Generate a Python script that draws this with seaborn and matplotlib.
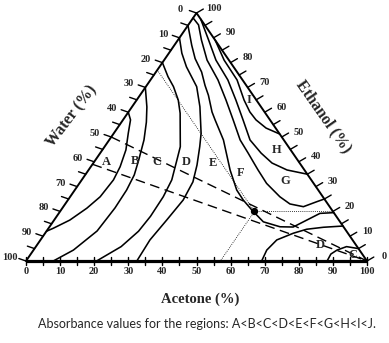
import numpy as np
import pandas as pd
import seaborn as sns
import matplotlib
matplotlib.use('Agg')
import matplotlib.pyplot as plt

ab_acetone = [0, 2.2, 4.2, 6.9, 8.6, 9.3, 8.8, 7.2, 4.6, 1.4, 0]
ab_ethanol = [60, 56.9, 51.6, 44.8, 38, 32.7, 25.9, 21.3, 16.5, 13.2, 12]

bc_acetone = [0, 4.4, 7.3, 10.2, 12.7, 14.4, 15.2, 15.4, 14.8, 11.7, 8]
bc_ethanol = [70, 62.1, 56, 48.8, 40.7, 34.7, 28.6, 21.4, 12.1, 4.4, 0]

cd_acetone = [0, 4.5, 8.1, 12.2, 15.4, 22.2, 23.9, 26.4, 27.3, 27.5, 27.0, 25.0, 20.7]
cd_ethanol = [80, 74.3, 70.3, 64.9, 59.6, 46.1, 40.7, 32.7, 25.9, 18, 12, 5.8, 0]

de_acetone = [0, 3.8, 7.9, 14.9, 19.9, 25.6, 27.9, 30.8, 33.0, 33.8, 33.0, 32.1, 32.5]
de_ethanol = [90, 83.8, 78.3, 70.3, 62.2, 51.5, 46.1, 38.7, 31.9, 24.6, 16.5, 8.5, 0]

ef_acetone = [0, 5.1, 8.8, 13.4, 17.1, 20.1, 24.5, 27.0, 33.5, 41.5, 47.5, 51.4,
              55.9, 61.7, 67.6, 71.5, 74.1, 76.6, 80.5]
ef_ethanol = [95, 87.0, 81.6, 76.2, 70.8, 66.8, 60.1, 56.9, 48.8, 36.7, 28.6, 24.6,
              20.6, 15.8, 13.8, 13.7, 16.5, 19.2, 19.5]

fg_acetone = [0, 3.0, 6.9, 12.6, 19.8, 26.2, 32.3, 38.4, 43.4, 47.1, 49.7, 54.9,
              61.5, 65.9, 70.4, 73.3, 75]
fg_ethanol = [98, 95.2, 89.1, 81.0, 73.0, 64.9, 56.9, 48.8, 43.5, 39.5, 36.7, 31.3,
              25.9, 23.0, 21.9, 23.9, 25]

gh_acetone = [2.5, 9.0, 15.2, 22.7, 29.1, 35.2, 41.3, 47.2, 52.4, 58.2, 65]
gh_ethanol = [97.5, 89.1, 81.0, 73.0, 64.9, 56.9, 48.8, 43.5, 39.5, 36.7, 35]

hi_acetone = [11, 17.6, 25.4, 31.5, 35.6, 39.0, 43.6, 48.8]
hi_ethanol = [89, 81.0, 73.0, 64.9, 60.1, 56.9, 53.6, 51.2]

# the two small pockets near the acetone corner
d_arc_acetone = [69.1, 68.4, 69.3, 72.8, 75.9, 80.4, 85.9]
d_arc_ethanol = [0, 4.4, 8.5, 11.2, 12.8, 13.6, 14.1]
c_arc_acetone = [88.3, 88.0, 89.0, 91.1, 95]
c_arc_ethanol = [0, 2.8, 4.4, 5.8, 5]

# dashed lines start on the water axis and run to pure acetone
dash_start_water = [50, 61]

# marked composition (acetone, ethanol, water)
point_acetone = 57
point_ethanol = 20
point_water = 23

region_labels = ['A', 'B', 'C', 'D', 'E', 'F', 'G', 'H', 'I', 'D', 'C']
label_acetone = [3.7, 11.8, 18.3, 27.1, 35.0, 45.2, 59.8, 51.1, 33.0, 83.0, 94.7]
label_ethanol = [40.0, 40.4, 40.0, 40.0, 39.4, 35.6, 32.4, 44.8, 64.9, 6.5, 2.4]

tick_values = list(range(0, 101, 10))


def to_xy(acetone, ethanol):
    a = np.asarray(acetone, dtype=float)
    e = np.asarray(ethanol, dtype=float)
    return a + e / 2.0, e


sns.set_style('white')
plt.rcParams['font.family'] = ['Liberation Serif', 'DejaVu Serif']

fig = plt.figure(figsize=(3.89, 3.43), dpi=100)
ax = fig.add_axes([26 / 389, 82 / 343, 341 / 389, 248 / 343])
ax.set_xlim(0, 100)
ax.set_ylim(0, 100)
ax.axis('off')

# triangle frame
ax.plot([0, 100], [0, 0], color='black', lw=2.3, solid_capstyle='butt', clip_on=False)
ax.plot([0, 50, 100], [0, 100, 0], color='black', lw=1.4, clip_on=False)

# ticks every 5 %
for v in range(0, 101, 5):
    ax.plot([v, v], [-1.6, 1.6], color='black', lw=1.0, clip_on=False)
    lx, ly = (100 - v) / 2.0, 100.0 - v
    ax.plot([lx, lx - 2.1], [ly, ly + 1.0], color='black', lw=1.0, clip_on=False)
    rx, ry = 100 - v / 2.0, float(v)
    ax.plot([rx, rx + 2.0], [ry, ry + 1.6], color='black', lw=1.0, clip_on=False)

tick_font = dict(fontsize=7.5, fontweight='bold', ha='center', va='center')
for v in tick_values:
    ax.text(v, -4.4, str(v), **tick_font)
    ax.text((100 - v) / 2.0 - 4.8, 100 - v + 1.4, str(v), **tick_font)
    ax.text(100 - v / 2.0 + 5.0, v + 2.0, str(v), **tick_font)

# region boundaries
curves = {
    'ab': (ab_acetone, ab_ethanol),
    'bc': (bc_acetone, bc_ethanol),
    'cd': (cd_acetone, cd_ethanol),
    'de': (de_acetone, de_ethanol),
    'ef': (ef_acetone, ef_ethanol),
    'fg': (fg_acetone, fg_ethanol),
    'gh': (gh_acetone, gh_ethanol),
    'hi': (hi_acetone, hi_ethanol),
    'd_arc': (d_arc_acetone, d_arc_ethanol),
    'c_arc': (c_arc_acetone, c_arc_ethanol),
}
frames = []
for name, (a, e) in curves.items():
    x, y = to_xy(a, e)
    frames.append(pd.DataFrame({'x': x, 'y': y, 'curve': name}))
df = pd.concat(frames, ignore_index=True)
sns.lineplot(data=df, x='x', y='y', units='curve', estimator=None, sort=False,
             color='black', lw=1.15, legend=False, ax=ax)

# dashed lines
for w in dash_start_water:
    x, y = to_xy([0, 100], [100 - w, 0])
    ax.plot(x, y, color='black', lw=1.0, dashes=(7, 4))

# dotted guide lines through the marked point
px, py = to_xy([point_acetone], [point_ethanol])
for a, e in [([point_acetone, 100 - point_ethanol], [point_ethanol, point_ethanol]),
             ([point_acetone, point_acetone], [point_ethanol, 0]),
             ([point_acetone, 0], [point_ethanol, 100 - point_water])]:
    x, y = to_xy(a, e)
    ax.plot(x, y, color='black', lw=0.6, ls=(0, (1, 1.5)))
ax.scatter(px, py, s=18, color='black', zorder=5)

for lab, a, e in zip(region_labels, label_acetone, label_ethanol):
    x, y = to_xy([a], [e])
    ax.text(x[0], y[0], lab, fontsize=9, fontweight='bold', ha='center', va='center')

# axis titles
ax.text(13.5, 58.5, 'Water (%)', fontsize=11.5, fontweight='bold', rotation=53,
        ha='center', va='center')
ax.text(87.4, 58.1, 'Ethanol (%)', fontsize=11.5, fontweight='bold', rotation=-55,
        ha='center', va='center')
ax.text(51, -15.5, 'Acetone (%)', fontsize=10.5, fontweight='bold', ha='center', va='center')

fig.text(207 / 389, 1 - 324 / 343,
         'Absorbance values for the regions: A<B<C<D<E<F<G<H<I<J.',
         fontsize=9, family=['Lato', 'DejaVu Sans'], ha='center', va='center')

fig.savefig('out.png', dpi=100)
